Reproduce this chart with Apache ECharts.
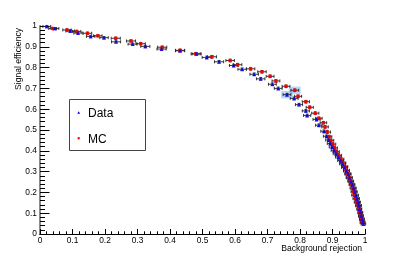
<!DOCTYPE html>
<html>
<head>
<meta charset="utf-8">
<script src="https://cdn.jsdelivr.net/npm/echarts@6/dist/echarts.min.js"></script>
<style>
html,body{margin:0;padding:0;background:#fff;}
#c{width:407px;height:261px;}
</style>
</head>
<body>
<div id="c"></div>
<script>
// ---- data ----
const dataX = [0.021,0.046,0.093,0.117,0.156,0.197,0.234,0.285,0.324,0.374,0.431,0.482,0.513,0.551,0.596,0.622,0.659,0.679,0.715,0.733,0.760,0.782,0.797,0.818,0.822,0.851,0.858,0.874,0.882,0.888,0.893,0.899,0.905,0.911,0.918,0.925,0.931,0.937,0.943,0.948,0.952,0.957,0.961,0.965,0.968,0.972,0.975,0.978,0.981,0.983,0.986,0.988,0.991,0.993,0.995];
const dataY = [0.998,0.988,0.976,0.966,0.950,0.944,0.924,0.913,0.902,0.889,0.881,0.866,0.849,0.828,0.810,0.792,0.768,0.746,0.720,0.700,0.670,0.652,0.622,0.592,0.570,0.551,0.523,0.494,0.470,0.452,0.435,0.418,0.402,0.386,0.370,0.353,0.337,0.320,0.303,0.287,0.270,0.253,0.237,0.220,0.203,0.186,0.170,0.153,0.137,0.120,0.104,0.088,0.072,0.058,0.048];
const dataXErr = [0.012,0.012,0.013,0.013,0.013,0.013,0.014,0.014,0.014,0.014,0.014,0.014,0.014,0.014,0.013,0.013,0.013,0.013,0.012,0.012,0.012,0.012,0.011,0.011,0.011,0.011,0.010,0.010,0.010,0.009,0.009,0.009,0.009,0.009,0.009,0.009,0.009,0.009,0.009,0.009,0.009,0.008,0.008,0.008,0.008,0.008,0.008,0.008,0.008,0.007,0.007,0.007,0.007,0.007,0.007];
const dataYErr = [0.004,0.004,0.005,0.005,0.005,0.005,0.005,0.005,0.005,0.005,0.005,0.005,0.006,0.006,0.006,0.006,0.006,0.006,0.006,0.006,0.006,0.006,0.006,0.006,0.006,0.006,0.006,0.006,0.006,0.006,0.006,0.006,0.006,0.006,0.006,0.006,0.006,0.006,0.006,0.006,0.006,0.006,0.006,0.006,0.006,0.006,0.006,0.006,0.006,0.006,0.006,0.006,0.006,0.006,0.006];

const mcX = [0.039,0.083,0.113,0.146,0.178,0.233,0.280,0.310,0.376,0.431,0.479,0.529,0.585,0.608,0.648,0.683,0.708,0.726,0.757,0.784,0.794,0.818,0.830,0.847,0.858,0.872,0.877,0.884,0.889,0.895,0.901,0.906,0.912,0.919,0.926,0.932,0.938,0.943,0.947,0.951,0.955,0.959,0.962,0.965,0.967,0.971,0.975,0.979,0.982,0.985,0.987,0.990,0.992];
const mcY = [0.988,0.981,0.974,0.965,0.953,0.941,0.928,0.915,0.898,0.883,0.866,0.852,0.834,0.814,0.794,0.780,0.758,0.736,0.710,0.691,0.662,0.636,0.609,0.581,0.556,0.535,0.515,0.490,0.468,0.450,0.432,0.414,0.396,0.378,0.360,0.342,0.324,0.306,0.290,0.272,0.255,0.238,0.221,0.204,0.187,0.170,0.153,0.136,0.119,0.102,0.086,0.070,0.055];
const mcXErr = [0.012,0.013,0.013,0.013,0.013,0.014,0.014,0.014,0.014,0.014,0.014,0.014,0.013,0.013,0.013,0.013,0.012,0.012,0.012,0.012,0.011,0.011,0.011,0.011,0.010,0.010,0.010,0.010,0.009,0.009,0.009,0.009,0.009,0.009,0.009,0.009,0.009,0.009,0.009,0.009,0.008,0.008,0.008,0.008,0.008,0.008,0.008,0.008,0.007,0.007,0.007,0.007,0.007];
const mcYErr = [0.004,0.005,0.005,0.005,0.005,0.005,0.005,0.005,0.005,0.005,0.005,0.006,0.006,0.006,0.006,0.006,0.006,0.006,0.006,0.006,0.006,0.006,0.006,0.006,0.006,0.006,0.006,0.006,0.006,0.006,0.006,0.006,0.006,0.006,0.006,0.006,0.006,0.006,0.006,0.006,0.006,0.006,0.006,0.006,0.006,0.006,0.006,0.006,0.006,0.006,0.006,0.006,0.006];

const xTickLabels = ['0','0.1','0.2','0.3','0.4','0.5','0.6','0.7','0.8','0.9','1'];
const yTickLabels = ['0','0.1','0.2','0.3','0.4','0.5','0.6','0.7','0.8','0.9','1'];

const highlightData = 20;   // index of highlighted Data point
const highlightMC = 19;     // index of highlighted MC point
const highlightHalf = 0.018;

// ---- build ----
const FONT = '"Liberation Sans", Arial, Helvetica, sans-serif';
function rows(xs, ys, ex, ey){ return xs.map((x,i)=>[x, ys[i], ex[i], ey[i]]); }
const dataRows = rows(dataX, dataY, dataXErr, dataYErr);
const mcRows = rows(mcX, mcY, mcXErr, mcYErr);

function errItem(params, api){
  const x = api.value(0), y = api.value(1), ex = api.value(2), ey = api.value(3);
  const l = api.coord([x-ex, y]), r = api.coord([x+ex, y]);
  const b = api.coord([x, y-ey]), t = api.coord([x, y+ey]);
  const c = 1.5;
  const st = {stroke:'#222', lineWidth:0.9};
  const L = (x1,y1,x2,y2)=>({type:'line', shape:{x1,y1,x2,y2}, style:st});
  return {type:'group', children:[
    L(l[0], l[1], r[0], r[1]),
    L(l[0], l[1]-c, l[0], l[1]+c),
    L(r[0], r[1]-c, r[0], r[1]+c),
    L(b[0], b[1], t[0], t[1]),
    L(t[0]-c, t[1], t[0]+c, t[1]),
    L(b[0]-c, b[1], b[0]+c, b[1])
  ]};
}

function box(x, y){ return [{coord:[x-highlightHalf, y+highlightHalf]}, {coord:[x+highlightHalf, y-highlightHalf]}]; }

const chart = echarts.init(document.getElementById('c'), null, {renderer:'canvas'});
chart.setOption({
  animation:false,
  backgroundColor:'#fff',
  grid:{left:40, right:42, top:26, bottom:27, show:false},
  xAxis:[{
    type:'value', min:0, max:1, interval:0.1,
    axisLine:{show:true, onZero:false, lineStyle:{color:'#000', width:1}},
    axisTick:{show:true, inside:true, length:5, lineStyle:{color:'#000'}},
    minorTick:{show:true, splitNumber:5, length:2.7, lineStyle:{color:'#000'}},
    splitLine:{show:false},
    axisLabel:{margin:3, fontSize:8.4, fontFamily:FONT, color:'#000',
      formatter:(v)=>xTickLabels[Math.round(v*10)]}
  },{
    type:'value', min:0, max:1, position:'top',
    axisLine:{show:true, lineStyle:{color:'#000', width:1}},
    axisTick:{show:false}, axisLabel:{show:false}, splitLine:{show:false}
  }],
  yAxis:[{
    type:'value', min:0, max:1, interval:0.1,
    axisLine:{show:true, onZero:false, lineStyle:{color:'#000', width:1}},
    axisTick:{show:true, inside:true, length:9.5, lineStyle:{color:'#000'}},
    minorTick:{show:true, splitNumber:5, length:5, lineStyle:{color:'#000'}},
    splitLine:{show:false},
    axisLabel:{margin:3, fontSize:8.4, fontFamily:FONT, color:'#000',
      formatter:(v)=>yTickLabels[Math.round(v*10)]}
  },{
    type:'value', min:0, max:1, position:'right',
    axisLine:{show:true, lineStyle:{color:'#8a8a8a', width:2}},
    axisTick:{show:false}, axisLabel:{show:false}, splitLine:{show:false}
  }],
  series:[
    {
      type:'custom', name:'DataErr', renderItem:errItem, data:dataRows,
      encode:{x:0, y:1}, z:3, silent:true,
      markArea:{silent:true, itemStyle:{color:'rgba(120,185,245,0.55)'},
        data:[box(dataX[highlightData], dataY[highlightData])]}
    },
    {
      type:'custom', name:'MCErr', renderItem:errItem, data:mcRows,
      encode:{x:0, y:1}, z:3, silent:true,
      markArea:{silent:true, itemStyle:{color:'rgba(120,185,245,0.55)'},
        data:[box(mcX[highlightMC], mcY[highlightMC])]}
    },
    {
      type:'scatter', name:'MC', data:mcX.map((x,i)=>[x, mcY[i]]),
      symbol:'circle', symbolSize:4, itemStyle:{color:'#ff0000'}, z:5
    },
    {
      type:'scatter', name:'Data', data:dataX.map((x,i)=>[x, dataY[i]]),
      symbol:'triangle', symbolSize:4, itemStyle:{color:'#0000ff'}, z:6
    }
  ],
  graphic:[
    {type:'text', x:19, y:28, rotation:Math.PI/2, z:10,
      style:{text:'Signal efficiency', fontSize:8.6, fontFamily:FONT, fill:'#000', align:'right', verticalAlign:'middle'}},
    {type:'text', x:362, y:248.5, z:10,
      style:{text:'Background rejection', fontSize:8.6, fontFamily:FONT, fill:'#000', align:'right', verticalAlign:'middle'}},
    {type:'rect', shape:{x:69.5, y:99.5, width:76, height:51}, z:10,
      style:{fill:'#fff', stroke:'#444', lineWidth:1}},
    {type:'polygon', shape:{points:[[78.7,111.3],[77.3,113.8],[80.1,113.8]]}, z:11,
      style:{fill:'#0000ff'}},
    {type:'circle', shape:{cx:78.7, cy:138.3, r:1.2}, z:11, style:{fill:'#ff0000'}},
    {type:'text', x:88, y:114, z:11,
      style:{text:'Data', fontSize:12, fontFamily:FONT, fill:'#000', align:'left', verticalAlign:'middle'}},
    {type:'text', x:88, y:140, z:11,
      style:{text:'MC', fontSize:12, fontFamily:FONT, fill:'#000', align:'left', verticalAlign:'middle'}}
  ]
});
</script>
</body>
</html>
